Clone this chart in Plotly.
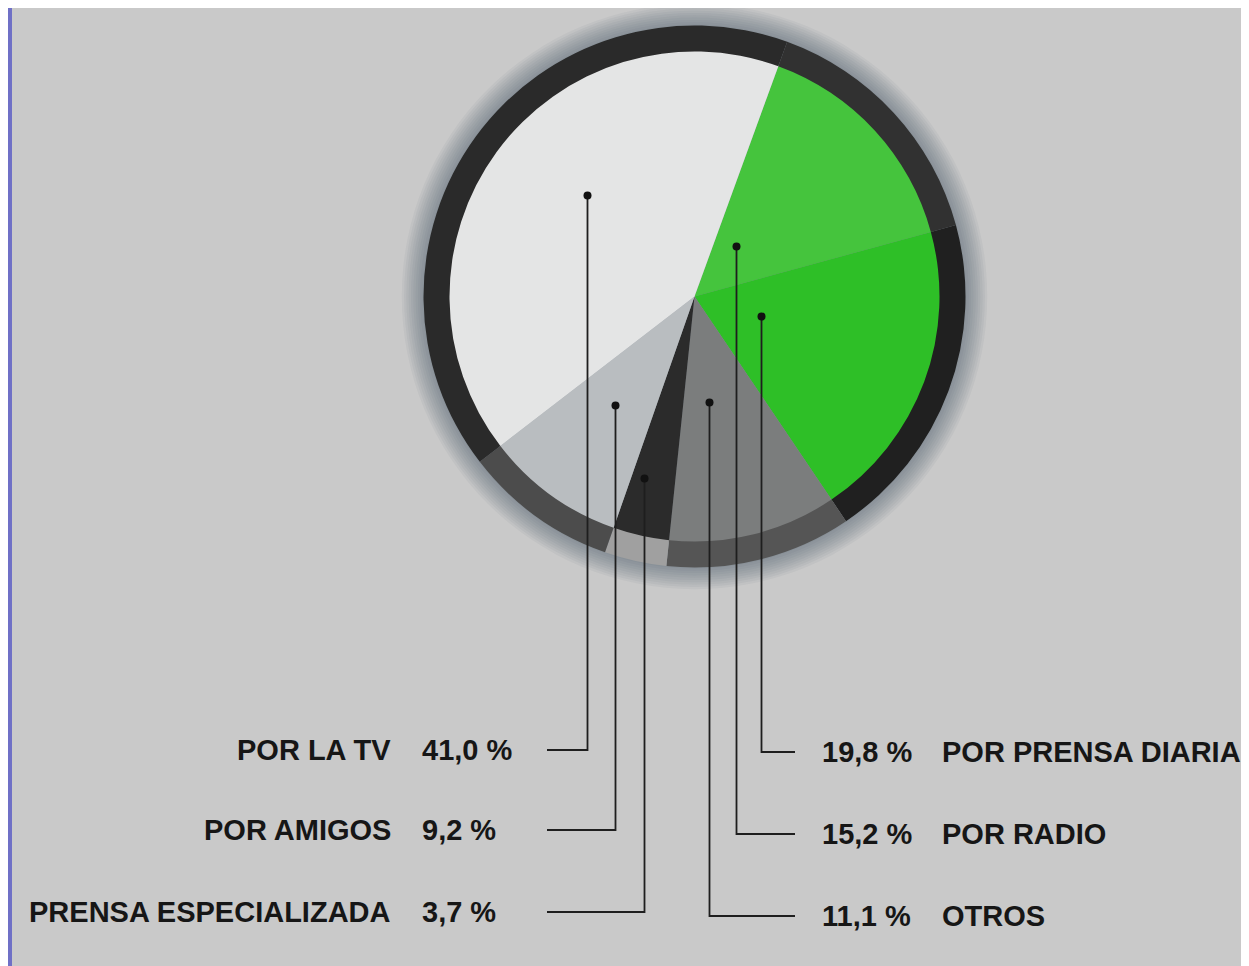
import math
import plotly.graph_objects as go

# ---------------- data ----------------
labels = ["POR RADIO", "POR PRENSA DIARIA", "OTROS",
          "PRENSA ESPECIALIZADA", "POR AMIGOS", "POR LA TV"]
values = [15.2, 19.8, 11.1, 3.7, 9.2, 41.0]
value_text = ["15,2 %", "19,8 %", "11,1 %", "3,7 %", "9,2 %", "41,0 %"]

# ---------------- style ----------------
slice_colors = ["#45c43d", "#2ebf27", "#7b7d7d", "#2b2b2b", "#b9bdc0", "#e4e5e5"]
ring_colors = ["#313131", "#202020", "#555555", "#a0a0a0", "#4c4c4c", "#2a2a2a"]

# The page body adds an 8px margin; lay out in reference pixels and shift.
OFF = 8
W, H = 1249 - OFF, 966 - OFF       # figure size


def X(v):
    return v - OFF


def Y(v):
    return v - OFF


CX, CY = X(694.5), Y(296.5)     # pie centre (px)
R_OUT, R_IN = 271, 245          # ring radii (px)
START = 20.0                    # first slice starts 20 deg clockwise from 12 o'clock

# label layout: side, row y (px, reference frame), dot offset from centre (px)
side = ["R", "R", "R", "L", "L", "L"]
row_y = [834, 752, 916, 912, 830, 750]
dot_off = [(42, -50), (67, 20), (15, 106), (-50, 182), (-79, 109), (-107, -101)]
LEFT_NAME_X, LEFT_NUM_X, LEFT_LINE_X = X(393), X(420), X(547)
RIGHT_NUM_X, RIGHT_NAME_X, RIGHT_LINE_X = X(820), X(940), X(795)

FONT = "Liberation Sans, Arial, sans-serif"
FS = 29


def dom(r):
    return dict(x=[(CX - r) / W, (CX + r) / W],
                y=[1 - (CY + r) / H, 1 - (CY - r) / H])


fig = go.Figure()

# inner pie
fig.add_trace(go.Pie(
    labels=labels, values=values, sort=False, direction="clockwise",
    rotation=START, marker=dict(colors=slice_colors, line=dict(width=0)),
    textinfo="none", hoverinfo="label+percent", showlegend=False,
    domain=dom(R_IN + 2)))

# outer ring
fig.add_trace(go.Pie(
    labels=labels, values=values, sort=False, direction="clockwise",
    rotation=START, hole=R_IN / R_OUT,
    marker=dict(colors=ring_colors, line=dict(width=0)),
    textinfo="none", hoverinfo="skip", showlegend=False,
    domain=dom(R_OUT)))

shapes = []
# grey page on blue slide
shapes.append(dict(type="rect", xref="x", yref="y", x0=X(12), y0=Y(5), x1=W + 5, y1=H + 5,
                   fillcolor="#c9c9c9", line=dict(width=0), layer="below"))
# soft halo around ring
for i in range(10):
    r = R_OUT + 1 + i * 2.3
    shapes.append(dict(type="circle", xref="x", yref="y",
                       x0=CX - r, x1=CX + r, y0=CY - r, y1=CY + r,
                       fillcolor="rgba(70,85,95,0.06)", line=dict(width=0),
                       layer="below"))

annotations = []
for lab, vt, s, y, (dx, dy) in zip(labels, value_text, side, row_y, dot_off):
    y = Y(y)
    px, py = CX + dx, CY + dy
    xend = RIGHT_LINE_X if s == "R" else LEFT_LINE_X
    shapes.append(dict(type="path", xref="x", yref="y",
                       path=f"M {px},{py} V {y} H {xend}",
                       line=dict(color="#1e1e1e", width=1.8), layer="above"))
    shapes.append(dict(type="circle", xref="x", yref="y",
                       x0=px - 4, x1=px + 4, y0=py - 4, y1=py + 4,
                       fillcolor="#111111", line=dict(width=0), layer="above"))
    if s == "L":
        annotations.append(dict(x=LEFT_NAME_X, y=y, text=lab, xanchor="right"))
        annotations.append(dict(x=LEFT_NUM_X, y=y, text=vt, xanchor="left"))
    else:
        annotations.append(dict(x=RIGHT_NUM_X, y=y, text=vt, xanchor="left"))
        annotations.append(dict(x=RIGHT_NAME_X, y=y, text=lab, xanchor="left"))

for a in annotations:
    a.update(xref="x", yref="y", yanchor="middle", showarrow=False,
             font=dict(family=FONT, size=FS, color="#161616"))
    a["text"] = f"<b>{a['text']}</b>"

fig.update_layout(
    width=W, height=H, margin=dict(l=0, r=0, t=0, b=0),
    paper_bgcolor="#6f70c6", plot_bgcolor="rgba(0,0,0,0)",
    xaxis=dict(range=[0, W], visible=False, fixedrange=True),
    yaxis=dict(range=[H, 0], visible=False, fixedrange=True),
    shapes=shapes, annotations=annotations,
)

fig.write_html("out.html")
